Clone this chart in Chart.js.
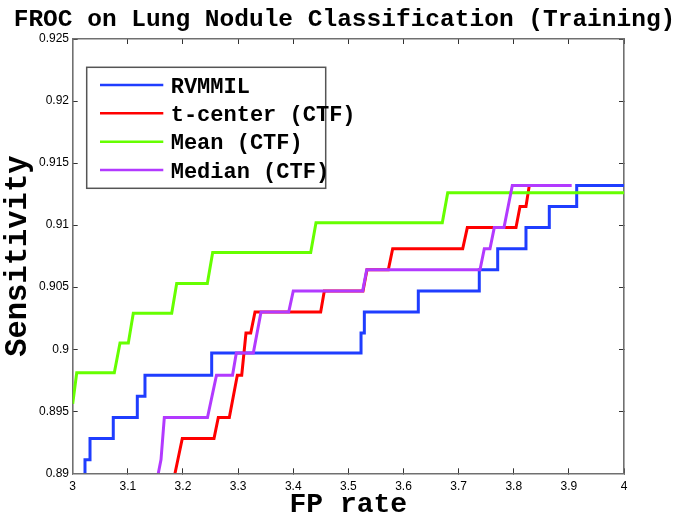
<!DOCTYPE html>
<html>
<head>
<meta charset="utf-8">
<script src="https://cdn.jsdelivr.net/npm/chart.js@4.4.1/dist/chart.umd.min.js"></script>
<style>
  body { margin: 0; background: #fff; }
  #wrap { width: 689px; height: 521px; }
</style>
</head>
<body>
<div id="wrap"><canvas id="froc"></canvas></div>
<script>
// series names (legend order)
const seriesNames = ["RVMMIL", "t-center (CTF)", "Mean (CTF)", "Median (CTF)"];

// RVMMIL
const fpRvmmil = [3.0223, 3.0223, 3.0314, 3.0314, 3.0736, 3.0736, 3.1172, 3.1172, 3.1311, 3.1311, 3.2521, 3.2521, 3.523, 3.523, 3.529, 3.529, 3.6269, 3.6269, 3.7375, 3.7375, 3.7709, 3.7709, 3.8222, 3.8222, 3.8645, 3.8645, 3.9142, 3.9142, 4.0];
const sensRvmmil = [0.89, 0.8911, 0.8911, 0.8928, 0.8928, 0.8945, 0.8945, 0.8962, 0.8962, 0.8979, 0.8979, 0.8997, 0.8997, 0.9013, 0.9013, 0.903, 0.903, 0.9047, 0.9047, 0.9064, 0.9064, 0.9081, 0.9081, 0.9098, 0.9098, 0.9115, 0.9115, 0.9132, 0.9132];

// t-center (CTF)
const fpTcenter = [3.1856, 3.1988, 3.2563, 3.2641, 3.2841, 3.2986, 3.3066, 3.3143, 3.3229, 3.3307, 3.4498, 3.4564, 3.5266, 3.5338, 3.5725, 3.5804, 3.7074, 3.7158, 3.8041, 3.8114, 3.8222, 3.8282, 3.833];
const sensTcenter = [0.89, 0.8928, 0.8928, 0.8945, 0.8945, 0.8979, 0.8979, 0.9013, 0.9013, 0.903, 0.903, 0.9047, 0.9047, 0.9064, 0.9064, 0.9081, 0.9081, 0.9098, 0.9098, 0.9115, 0.9115, 0.9132, 0.9132];

// Mean (CTF)
const fpMean = [3.0, 3.0073, 3.0755, 3.0858, 3.1009, 3.1099, 3.1796, 3.1886, 3.2442, 3.2539, 3.4317, 3.4413, 3.6704, 3.6802, 4.0];
const sensMean = [0.8956, 0.8981, 0.8981, 0.9005, 0.9005, 0.9029, 0.9029, 0.9053, 0.9053, 0.9078, 0.9078, 0.9102, 0.9102, 0.9126, 0.9126];

// Median (CTF)
const fpMedian = [3.1553, 3.1602, 3.1662, 3.2445, 3.2608, 3.2899, 3.2968, 3.3276, 3.3416, 3.3918, 3.4001, 3.526, 3.5333, 3.7388, 3.7466, 3.7569, 3.7647, 3.7823, 3.7974, 3.9051];
const sensMedian = [0.89, 0.8911, 0.8945, 0.8945, 0.8979, 0.8979, 0.8997, 0.8997, 0.903, 0.903, 0.9047, 0.9047, 0.9064, 0.9064, 0.9081, 0.9081, 0.9098, 0.9098, 0.9132, 0.9132];

// axis ranges / ticks
const xMin = 3, xMax = 4, xStep = 0.1;
const yMin = 0.89, yMax = 0.925, yStep = 0.005;

const lineColors = ["#1f3dff", "#ff0000", "#66ff00", "#b23aff"];

function toPoints(xs, ys) {
  return xs.map((x, i) => ({ x: x, y: ys[i] }));
}

const allSeries = [
  toPoints(fpRvmmil, sensRvmmil),
  toPoints(fpTcenter, sensTcenter),
  toPoints(fpMean, sensMean),
  toPoints(fpMedian, sensMedian),
];

const datasets = allSeries.map((pts, i) => ({
  label: seriesNames[i],
  data: pts,
  borderColor: lineColors[i],
  backgroundColor: lineColors[i],
  borderWidth: 3,
  pointRadius: 0,
  tension: 0,
  fill: false,
  borderCapStyle: "butt",
  borderJoinStyle: "miter",
  // later series on top, like matlab
  order: allSeries.length - i,
}));

const monoBold = (size) => ({ family: "'Liberation Mono', 'DejaVu Sans Mono', monospace", size: size, weight: "bold", lineHeight: 1 });
const tickFont = { family: "'Liberation Sans', Arial, sans-serif", size: 12 };
const axisGray = "#707070";

const cleanNum = (v) => String(Number(v.toFixed(3)));

// legend box drawn by hand (text spills past the frame in the original)
const boxLegend = {
  id: "boxLegend",
  afterDatasetsDraw(chart) {
    const ctx = chart.ctx;
    ctx.save();
    ctx.fillStyle = "#fff";
    ctx.fillRect(86.7, 67.3, 239, 121);
    ctx.strokeStyle = "#555";
    ctx.lineWidth = 1.5;
    ctx.strokeRect(86.7, 67.3, 239, 121);
    const rows = [85, 113.3, 141.7, 170];
    ctx.font = "bold 22px 'Liberation Mono', monospace";
    ctx.textBaseline = "alphabetic";
    ctx.textAlign = "left";
    chart.data.datasets.forEach((ds, i) => {
      ctx.strokeStyle = ds.borderColor;
      ctx.lineWidth = 2.5;
      ctx.beginPath();
      ctx.moveTo(100, rows[i]);
      ctx.lineTo(163.3, rows[i]);
      ctx.stroke();
      ctx.fillStyle = "#000";
      ctx.fillText(ds.label, 170.7, rows[i] + 7.5);
    });
    ctx.restore();
  },
};

const frocConfig = {
  type: "line",
  data: { datasets: datasets },
  options: {
    responsive: true,
    maintainAspectRatio: false,
    animation: false,
    layout: { padding: 0 },
    plugins: {
      legend: { display: false },
      tooltip: { enabled: false },
      title: {
        display: true,
        text: "FROC on Lung Nodule Classification (Training)",
        color: "#000",
        font: monoBold(24.5),
        padding: { top: 7.8, bottom: 6.7 },
      },
    },
    scales: {
      x: {
        type: "linear",
        position: "bottom",
        min: xMin,
        max: xMax,
        ticks: {
          stepSize: xStep,
          color: "#000",
          font: tickFont,
          padding: 11,
          maxRotation: 0,
          callback: (v) => cleanNum(v),
        },
        grid: { drawOnChartArea: false, drawTicks: true, tickLength: -5, color: "#333" },
        border: { color: axisGray, width: 1.6 },
        title: { display: true, text: "FP rate", color: "#000", font: monoBold(28), padding: { top: 0, bottom: 2.5 } },
        afterFit(scale) { scale.height = 47.7; scale.paddingLeft = 0; scale.paddingRight = 0; },
      },
      x2: {
        type: "linear",
        position: "top",
        min: xMin,
        max: xMax,
        ticks: { stepSize: xStep, display: false },
        grid: { drawOnChartArea: false, drawTicks: true, tickLength: -5, color: "#333" },
        border: { color: axisGray, width: 1.6 },
        afterFit(scale) { scale.height = 0; scale.paddingLeft = 0; scale.paddingRight = 0; },
      },
      y: {
        type: "linear",
        position: "left",
        min: yMin,
        max: yMax,
        ticks: {
          stepSize: yStep,
          color: "#000",
          font: tickFont,
          padding: 8.7,
          callback: (v) => cleanNum(v),
        },
        grid: { drawOnChartArea: false, drawTicks: true, tickLength: -5, color: "#333" },
        border: { color: axisGray, width: 1.6 },
        title: { display: true, text: "Sensitivity", color: "#000", font: monoBold(30.5), padding: { top: 3.4, bottom: 0 } },
        afterFit(scale) { scale.width = 72.7; scale.paddingTop = 0; scale.paddingBottom = 0; },
      },
      y2: {
        type: "linear",
        position: "right",
        min: yMin,
        max: yMax,
        ticks: { stepSize: yStep, display: false },
        grid: { drawOnChartArea: false, drawTicks: true, tickLength: -5, color: "#333" },
        border: { color: axisGray, width: 1.6 },
        // empty margin on the right of the frame
        afterFit(scale) { scale.width = 65; scale.paddingTop = 0; scale.paddingBottom = 0; },
      },
    },
  },
  plugins: [boxLegend],
};

const frocChart = new Chart(document.getElementById("froc"), frocConfig);
</script>
</body>
</html>
